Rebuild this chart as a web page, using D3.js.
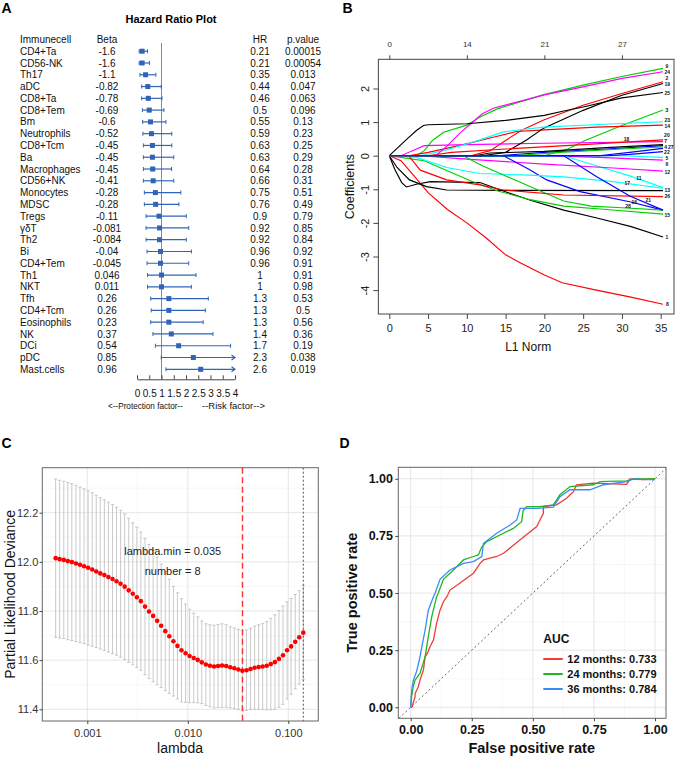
<!DOCTYPE html>
<html><head><meta charset="utf-8">
<script src="https://cdn.jsdelivr.net/npm/d3@7"></script>
<style>body{margin:0;background:#fff}</style>
</head><body><svg id="c" width="675" height="758"></svg>
<script>
// ================= DATA =================
// Panel A – forest plot
const cells = ["CD4+Ta","CD56-NK","Th17","aDC","CD8+Ta","CD8+Tem","Bm","Neutrophils","CD8+Tcm","Ba","Macrophages","CD56+NK","Monocytes","MDSC","Tregs","γδT","Th2","Bi","CD4+Tem","Th1","NKT","Tfh","CD4+Tcm","Eosinophils","NK","DCi","pDC","Mast.cells"];
const betaText = ["-1.6","-1.6","-1.1","-0.82","-0.78","-0.69","-0.6","-0.52","-0.45","-0.45","-0.45","-0.41","-0.28","-0.28","-0.11","-0.081","-0.084","-0.04","-0.045","0.046","0.011","0.26","0.26","0.23","0.37","0.54","0.85","0.96"];
const hrText = ["0.21","0.21","0.35","0.44","0.46","0.5","0.55","0.59","0.63","0.63","0.64","0.66","0.75","0.76","0.9","0.92","0.92","0.96","0.96","1","1","1.3","1.3","1.3","1.4","1.7","2.3","2.6"];
const pText = ["0.00015","0.00054","0.013","0.047","0.063","0.096","0.13","0.23","0.25","0.29","0.28","0.31","0.51","0.49","0.79","0.85","0.84","0.92","0.91","0.91","0.98","0.53","0.5","0.56","0.36","0.19","0.038","0.019"];
const ciLow  = [0.09,0.09,0.12,0.19,0.19,0.22,0.23,0.24,0.26,0.26,0.26,0.26,0.30,0.30,0.37,0.37,0.37,0.41,0.41,0.43,0.43,0.56,0.58,0.56,0.65,0.75,0.99,1.18];
const ciHigh = [0.43,0.51,0.77,0.99,1.02,1.10,1.18,1.42,1.42,1.50,1.41,1.50,1.79,1.71,2.01,2.11,2.01,2.22,2.11,2.41,2.22,2.91,2.79,2.70,3.10,3.82,5.4,5.8];
const hrTicks = [0,0.5,1,1.5,2,2.5,3,3.5,4];

// Panel B – coefficient paths [L1 norm, coefficient] for variables 1..28
const coefPaths = [
 [[0,0],[0.7,-0.4],[1.6,-0.8],[2.2,-0.93],[3.5,-0.85],[5.3,-0.77],[11.7,-0.8],[14.7,-1.05],[18.1,-1.32],[22.5,-1.62],[26.9,-1.86],[31.2,-2.11],[35.3,-2.42]],
 [[0,0],[10.5,0],[13,0.15],[15.1,0.47],[17,0.75],[19.9,1.06],[25,1.5],[30,1.85],[35.3,2.2]],
 [[0,0],[20,0],[23,0.2],[25.4,0.47],[30,0.9],[35.3,1.36]],
 [[0,0],[14,0],[20,0.1],[28,0.2],[35.3,0.3]],
 [[0,0],[25,0],[30,0],[35.3,-0.05]],
 [[0,0],[20,0],[27,-0.05],[35.3,-0.13]],
 [[0,0],[11,0],[13,0.08],[20,0.13],[28,0.24],[35.3,0.33]],
 [[0,0],[1.5,-0.15],[3,-0.55],[5,-1.1],[7.5,-1.6],[10,-2.0],[12.5,-2.45],[15,-2.95],[17,-3.2],[20,-3.55],[22.3,-3.78],[26.7,-4.0],[31,-4.2],[35.3,-4.42]],
 [[0,0],[3.5,0],[4.5,0.15],[5.6,0.46],[7,0.7],[10,0.91],[11.7,1.15],[14,1.4],[19.8,1.81],[25,2.1],[29.8,2.35],[35.3,2.6]],
 [[0,0],[27,0],[31,0.1],[35.3,0.22]],
 [[0,0],[22.5,0],[26.7,-0.3],[31,-0.6],[35.3,-0.95]],
 [[0,0],[4,0],[10,-0.1],[20,-0.25],[30,-0.38],[35.3,-0.46]],
 [[0,0],[1,-0.35],[2.6,-0.72],[4.8,-0.92],[7.4,-1.02],[15,-1.03],[35.3,-1.04]],
 [[0,0],[2.5,0],[5,0.1],[9,0.3],[13.8,0.57],[16.4,0.72],[20,0.77],[26.7,0.85],[35.3,0.91]],
 [[0,0],[3,-0.1],[4.5,-0.15],[8,-0.5],[11,-0.8],[14,-1.05],[18,-1.3],[22.5,-1.5],[28,-1.6],[35.3,-1.74]],
 [[0,0],[14.7,0],[18,-0.4],[20.3,-0.72],[24.6,-1.07],[31,-1.37],[35.3,-1.62]],
 [[0,0],[3.5,-0.05],[7.4,-0.35],[11.7,-0.53],[18,-0.58],[22.5,-0.63],[28.9,-0.77],[35.3,-0.97]],
 [[0,0],[1.5,0],[3,0.15],[4.5,0.3],[10,0.33],[20,0.37],[35.3,0.42]],
 [[0,0],[12,0],[15,0.1],[17.7,0.47],[19.9,0.82],[25,1.35],[30,1.8],[35.3,2.15]],
 [[0,0],[5,0],[8,0.1],[15,0.2],[25,0.33],[35.3,0.47]],
 [[0,0],[9.5,0],[12,-0.3],[16,-0.7],[20,-1.1],[22.5,-1.35],[26,-1.5],[30,-1.55],[35.3,-1.62]],
 [[0,0],[28,0],[31,0.04],[35.3,0.12]],
 [[0,0],[4,0],[7,0.15],[10,0.35],[11.7,0.47],[14.7,0.71],[19.9,0.85],[27,0.93],[35.3,1.01]],
 [[0,0],[6,0],[7.5,0.3],[9,0.65],[10.5,0.95],[12,1.25],[13.5,1.42],[20,1.81],[25,2.05],[30,2.3],[35.3,2.5]],
 [[0,0],[1,0.22],[2.3,0.5],[3.5,0.75],[4.4,0.9],[5,0.92],[10,0.95],[15,1.05],[20,1.2],[22.5,1.33],[25,1.45],[30,1.72],[35.3,1.88]],
 [[0,0],[2.5,0],[4,-0.43],[7.4,-0.72],[11.7,-0.87],[14.7,-1.02],[22.5,-1.17],[35.3,-1.22]],
 [[0,0],[16,0],[22,0.1],[30,0.2],[35.3,0.26]],
 [[0,0],[22.5,0],[26.7,-0.62],[31,-1.2],[35.3,-1.62]]
];
const pathPalette = ["#000000","#FF0000","#00CD00","#0000FF","#00FFFF","#FF00FF"];
const varLabels = [["9",35.8,2.67],["24",35.85,2.49],["2",35.8,2.31],["19",35.85,2.13],["25",35.85,1.87],["3",35.8,1.36],["23",35.85,1.06],["14",35.85,0.88],["20",35.8,0.60],["7",35.65,0.43],["4",35.65,0.26],["27",36.3,0.26],["22",35.8,0.09],["5",35.8,-0.08],["6",35.8,-0.25],["12",35.85,-0.48],["13",35.85,-1.04],["26",35.85,-1.22],["15",35.85,-1.77],["1",35.8,-2.42],["8",35.85,-4.43],["18",30.6,0.49],["11",32.2,-0.66],["17",30.7,-0.82],["21",33.4,-1.32],["16",31.6,-1.37],["28",30.8,-1.49]];
const l1Ticks = [0,5,10,15,20,25,30,35];
const coefTicks = [-4,-3,-2,-1,0,1,2];
const dfTickPos = [0,10,20,30];
const dfTickLabels = ["0","14","21","27"];

// Panel C – cross-validation
const logLambda = [-3.315,-3.275,-3.234,-3.194,-3.154,-3.113,-3.073,-3.032,-2.992,-2.951,-2.911,-2.871,-2.830,-2.790,-2.749,-2.709,-2.669,-2.628,-2.588,-2.547,-2.507,-2.467,-2.426,-2.386,-2.345,-2.305,-2.265,-2.224,-2.184,-2.143,-2.103,-2.063,-2.022,-1.982,-1.941,-1.901,-1.861,-1.820,-1.780,-1.739,-1.699,-1.659,-1.618,-1.578,-1.537,-1.497,-1.457,-1.416,-1.376,-1.335,-1.295,-1.255,-1.214,-1.174,-1.133,-1.093,-1.053,-1.012,-0.972,-0.931,-0.891,-0.851];
const cvMean = [12.015,12.011,12.008,12.003,11.999,11.993,11.988,11.982,11.976,11.969,11.961,11.953,11.946,11.938,11.930,11.921,11.911,11.899,11.884,11.870,11.856,11.840,11.818,11.798,11.780,11.760,11.740,11.718,11.697,11.677,11.658,11.640,11.628,11.617,11.609,11.601,11.591,11.582,11.577,11.574,11.576,11.578,11.576,11.571,11.567,11.562,11.557,11.559,11.564,11.569,11.572,11.574,11.577,11.584,11.592,11.605,11.620,11.640,11.656,11.675,11.693,11.712];
const cvSE = [.322,.321,.320,.320,.319,.318,.316,.315,.314,.312,.310,.308,.306,.305,.303,.301,.299,.296,.293,.289,.285,.281,.277,.273,.268,.260,.251,.242,.232,.223,.216,.210,.200,.190,.182,.175,.168,.166,.167,.168,.169,.170,.168,.165,.164,.163,.163,.164,.166,.169,.172,.175,.180,.186,.192,.197,.200,.198,.195,.192,.190,.192];
const lambdaMin = 0.035, lambda1se = 0.141;
const devTicks = [11.4,11.6,11.8,12.0,12.2];
const lambdaTicks = [0.001,0.01,0.1];

// Panel D – ROC
const roc12 = [[0,0],[0.005,0],[0.014,0.032],[0.018,0.047],[0.018,0.06],[0.031,0.09],[0.038,0.119],[0.052,0.163],[0.059,0.221],[0.07,0.24],[0.079,0.265],[0.093,0.294],[0.106,0.367],[0.12,0.425],[0.134,0.462],[0.148,0.484],[0.161,0.513],[0.202,0.544],[0.257,0.587],[0.284,0.63],[0.298,0.645],[0.352,0.66],[0.38,0.674],[0.448,0.733],[0.516,0.791],[0.529,0.82],[0.543,0.849],[0.543,0.878],[0.597,0.886],[0.638,0.915],[0.666,0.944],[0.679,0.974],[0.747,0.981],[0.884,0.976],[0.898,0.999],[0.95,0.997],[1,1]];
const roc24 = [[0,0],[0.004,0.047],[0.01,0.09],[0.018,0.119],[0.038,0.148],[0.05,0.19],[0.059,0.221],[0.072,0.309],[0.086,0.396],[0.106,0.484],[0.113,0.5],[0.134,0.56],[0.175,0.601],[0.216,0.645],[0.257,0.66],[0.277,0.667],[0.29,0.7],[0.311,0.725],[0.366,0.754],[0.42,0.783],[0.454,0.812],[0.46,0.86],[0.475,0.878],[0.529,0.878],[0.584,0.886],[0.611,0.93],[0.652,0.966],[0.747,0.974],[0.775,0.988],[0.884,0.991],[0.911,1.0],[1,1]];
const roc36 = [[0,0],[0.002,0.05],[0.006,0.09],[0.011,0.119],[0.025,0.16],[0.038,0.221],[0.05,0.29],[0.059,0.338],[0.072,0.425],[0.093,0.484],[0.1,0.5],[0.12,0.56],[0.161,0.601],[0.216,0.63],[0.257,0.638],[0.291,0.66],[0.298,0.718],[0.352,0.762],[0.407,0.798],[0.434,0.82],[0.448,0.871],[0.516,0.871],[0.584,0.876],[0.611,0.922],[0.652,0.952],[0.734,0.952],[0.789,0.974],[0.884,0.988],[0.911,1.0],[0.96,0.996],[1,0.996]];
const rocLabels = ["12 months: 0.733","24 months: 0.779","36 months: 0.784"];
const rocColors = ["#F03C3C","#22B522","#3A8CF5"];
const rateTicks = [0,0.25,0.5,0.75,1];

// ================= DRAW =================
const FONT = "'Liberation Sans', Arial, Helvetica, sans-serif";
const svg = d3.select("#c").attr("font-family", FONT);
svg.append("rect").attr("width",675).attr("height",758).attr("fill","#fff");

function styleAxis(g, fs, fw, col, lineCol){
  g.attr("font-family", FONT).attr("font-size", fs);
  g.selectAll("text").attr("fill", col).attr("font-weight", fw);
  g.selectAll("line").attr("stroke", lineCol);
  g.selectAll(".domain").attr("stroke", lineCol);
}
function label(txt,x,y,opt={}){
  const t = svg.append("text").text(txt).attr("x",x).attr("y",y)
    .attr("font-size",opt.fs||10).attr("font-weight",opt.fw||"normal")
    .attr("text-anchor",opt.anchor||"start").attr("fill",opt.fill||"#000");
  if(opt.rot) t.attr("transform",`rotate(-90,${x},${y})`);
  if(opt.len) t.attr("textLength",opt.len).attr("lengthAdjust","spacingAndGlyphs");
  return t;
}

// ---------- Panel A ----------
label("A",1.5,12.7,{fs:14,fw:"bold"});
label("Hazard Ratio Plot",171,23,{fs:11,fw:"bold",anchor:"middle"});
const xA = d3.scaleLinear().domain([0,4]).range([137,235]);
const yA = d3.scaleLinear().domain([0,27]).range([51.2,369.3]);
const blueA = "#2F64B9";
const axisYA = 379.3;
svg.append("line").attr("x1",xA(1)).attr("x2",xA(1)).attr("y1",43).attr("y2",axisYA).attr("stroke","#8a8a8a").attr("stroke-width",1);
const hy = yA(-1)+3.6;
label("Immunecell",20,hy,{fill:"#111"});
label("Beta",107,hy,{anchor:"middle",fill:"#111"});
label("HR",260,hy,{anchor:"middle",fill:"#111"});
label("p.value",303,hy,{anchor:"middle",fill:"#111"});
cells.forEach((c,i)=>{
  const y = yA(i)+3.6;
  label(c,20,y,{fill:"#111"});
  label(betaText[i],107,y,{anchor:"middle",fill:"#111"});
  label(hrText[i],260,y,{anchor:"middle",fill:"#111"});
  label(pText[i],303,y,{anchor:"middle",fill:"#111"});
});
const gF = svg.append("g");
cells.forEach((c,i)=>{
  const cy = yA(i), hr = +hrText[i];
  const lo = xA(ciLow[i]), hiClip = ciHigh[i] > 4, hi = xA(Math.min(ciHigh[i],4));
  gF.append("line").attr("x1",lo).attr("x2",hi).attr("y1",cy).attr("y2",cy).attr("stroke",blueA).attr("stroke-width",1.2);
  gF.append("line").attr("x1",lo).attr("x2",lo).attr("y1",cy-2).attr("y2",cy+2).attr("stroke",blueA).attr("stroke-width",1);
  if(hiClip){
    gF.append("path").attr("d",`M${hi-3.5},${cy-2.5}L${hi},${cy}L${hi-3.5},${cy+2.5}`).attr("fill","none").attr("stroke",blueA).attr("stroke-width",1.2);
  } else {
    gF.append("line").attr("x1",hi).attr("x2",hi).attr("y1",cy-2).attr("y2",cy+2).attr("stroke",blueA).attr("stroke-width",1);
  }
  const s = 5;
  gF.append("rect").attr("x",xA(hr)-s/2).attr("y",cy-s/2).attr("width",s).attr("height",s).attr("fill",blueA);
});
const gAx = svg.append("g").attr("transform",`translate(0,${axisYA})`)
  .call(d3.axisBottom(xA).tickValues(hrTicks).tickFormat(d=>String(d)).tickSize(-4).tickSizeOuter(0).tickPadding(10.4));
styleAxis(gAx,10,"normal","#111","#444");
label("<--Protection factor--",183,408.5,{fs:9,anchor:"end",len:75,fill:"#111"});
label("--Risk factor-->",202,408.5,{fs:9,len:63,fill:"#111"});

// ---------- Panel B ----------
label("B",342.5,12.7,{fs:14,fw:"bold"});
const xB = d3.scaleLinear().domain([0,35]).range([389.3,660.7]);
const yB = d3.scaleLinear().domain([-4,2]).range([290.1,88.5]);
const bL = xB(-1.41), bR = 674, bT = 59.3, bBt = 314;
const lineB = d3.line().x(d=>xB(d[0])).y(d=>yB(d[1]));
coefPaths.forEach((p,i)=>{
  svg.append("path").attr("d",lineB(p)).attr("fill","none")
    .attr("stroke",pathPalette[i%6]).attr("stroke-width",1.15);
});
varLabels.forEach(l=>{
  label(l[0],xB(l[1]),yB(l[2])+1.8,{fs:5,fw:"bold",anchor:"middle",fill:"#111"});
});
svg.append("rect").attr("x",bL).attr("y",bT).attr("width",bR-bL).attr("height",bBt-bT)
  .attr("fill","none").attr("stroke","#444").attr("stroke-width",1);
const gBb = svg.append("g").attr("transform",`translate(0,${bBt})`)
  .call(d3.axisBottom(xB).tickValues(l1Ticks).tickFormat(d=>String(d)).tickSize(5).tickPadding(4.9));
gBb.select(".domain").remove();
styleAxis(gBb,11,"normal","#222","#444");
const gBt = svg.append("g").attr("transform",`translate(0,${bT})`)
  .call(d3.axisTop(xB).tickValues(dfTickPos).tickFormat((d,i)=>dfTickLabels[i]).tickSize(4).tickPadding(8.3));
gBt.select(".domain").remove();
styleAxis(gBt,8,"normal","#333","#444");
const gBl = svg.append("g").attr("transform",`translate(${bL},0)`)
  .call(d3.axisLeft(yB).tickValues(coefTicks).tickFormat(d=>String(d)).tickSize(5));
gBl.select(".domain").remove();
styleAxis(gBl,11,"normal","#222","#444");
gBl.selectAll(".tick text").attr("x",null).attr("dy",null).attr("text-anchor","middle")
  .attr("transform","translate(-9.5,0) rotate(-90)");
label("Coefficients",354,(bT+bBt)/2,{fs:12.5,anchor:"middle",rot:true,fill:"#111"});
label("L1 Norm",(bL+bR)/2+2,350.7,{fs:12,anchor:"middle",fill:"#111"});

// ---------- Panel C ----------
label("C",1.5,448,{fs:14,fw:"bold"});
const xC = d3.scaleLog().domain([0.001,0.1]).range([87.3,288.3]);
const yC = d3.scaleLinear().domain([11.4,12.2]).range([709.3,512.7]);
const cL = 42.3, cR = 318.3, cT = 467.7, cB = 721;
const gC = svg.append("g");
[Math.pow(10,-2.5),Math.pow(10,-1.5)].forEach(v=>gC.append("line").attr("x1",xC(v)).attr("x2",xC(v)).attr("y1",cT).attr("y2",cB).attr("stroke","#F2F2F2").attr("stroke-width",0.6));
[11.5,11.7,11.9,12.1,12.3].forEach(v=>gC.append("line").attr("x1",cL).attr("x2",cR).attr("y1",yC(v)).attr("y2",yC(v)).attr("stroke","#F2F2F2").attr("stroke-width",0.6));
lambdaTicks.forEach(v=>gC.append("line").attr("x1",xC(v)).attr("x2",xC(v)).attr("y1",cT).attr("y2",cB).attr("stroke","#E6E6E6").attr("stroke-width",1));
devTicks.forEach(v=>gC.append("line").attr("x1",cL).attr("x2",cR).attr("y1",yC(v)).attr("y2",yC(v)).attr("stroke","#E6E6E6").attr("stroke-width",1));
logLambda.forEach((lg,i)=>{
  const x = xC(Math.pow(10,lg));
  const y1 = yC(cvMean[i]-cvSE[i]), y2 = yC(cvMean[i]+cvSE[i]);
  gC.append("line").attr("x1",x).attr("x2",x).attr("y1",y1).attr("y2",y2).attr("stroke","#BDBDBD").attr("stroke-width",0.8);
  gC.append("line").attr("x1",x-1.6).attr("x2",x+1.6).attr("y1",y1).attr("y2",y1).attr("stroke","#BDBDBD").attr("stroke-width",0.8);
  gC.append("line").attr("x1",x-1.6).attr("x2",x+1.6).attr("y1",y2).attr("y2",y2).attr("stroke","#BDBDBD").attr("stroke-width",0.8);
});
gC.append("line").attr("x1",xC(lambdaMin)).attr("x2",xC(lambdaMin)).attr("y1",cT).attr("y2",cB).attr("stroke","#FF3030").attr("stroke-width",1.4).attr("stroke-dasharray","6,3.5");
gC.append("line").attr("x1",xC(lambda1se)).attr("x2",xC(lambda1se)).attr("y1",cT).attr("y2",cB).attr("stroke","#555").attr("stroke-width",1).attr("stroke-dasharray","2,2");
logLambda.forEach((lg,i)=>{
  gC.append("circle").attr("cx",xC(Math.pow(10,lg))).attr("cy",yC(cvMean[i])).attr("r",2.3).attr("fill","#FF0000");
});
gC.append("rect").attr("x",cL).attr("y",cT).attr("width",cR-cL).attr("height",cB-cT).attr("fill","none").attr("stroke","#666").attr("stroke-width",1);
label("lambda.min = 0.035",172.7,555,{fs:11,anchor:"middle",fill:"#222"});
label("number = 8",172.7,574.5,{fs:11,anchor:"middle",fill:"#222"});
const gCx = svg.append("g").attr("transform",`translate(0,${cB})`)
  .call(d3.axisBottom(xC).tickValues(lambdaTicks).tickFormat(d3.format(".3f")).tickSize(3).tickPadding(4.9));
gCx.select(".domain").remove();
styleAxis(gCx,11,"normal","#333","#444");
const gCy = svg.append("g").attr("transform",`translate(${cL},0)`)
  .call(d3.axisLeft(yC).tickValues(devTicks).tickFormat(d3.format(".1f")).tickSize(2.8).tickPadding(1.2));
gCy.select(".domain").remove();
styleAxis(gCy,11,"normal","#333","#444");
label("lambda",180,753,{fs:14,anchor:"middle",fill:"#111"});
label("Partial Likelihood Deviance",15,(cT+cB)/2,{fs:14,anchor:"middle",rot:true,fill:"#111"});

// ---------- Panel D ----------
label("D",339.5,448,{fs:14,fw:"bold"});
const xD = d3.scaleLinear().domain([0,1]).range([410.7,655]);
const yD = d3.scaleLinear().domain([0,1]).range([707.3,478.8]);
const dL = 398.3, dR = 666, dT = 467.3, dB = 718.3;
const gD = svg.append("g");
[0.125,0.375,0.625,0.875].forEach(v=>{
  gD.append("line").attr("x1",xD(v)).attr("x2",xD(v)).attr("y1",dT).attr("y2",dB).attr("stroke","#F2F2F2").attr("stroke-width",0.6);
  gD.append("line").attr("x1",dL).attr("x2",dR).attr("y1",yD(v)).attr("y2",yD(v)).attr("stroke","#F2F2F2").attr("stroke-width",0.6);
});
rateTicks.forEach(v=>{
  gD.append("line").attr("x1",xD(v)).attr("x2",xD(v)).attr("y1",dT).attr("y2",dB).attr("stroke","#E6E6E6").attr("stroke-width",1);
  gD.append("line").attr("x1",dL).attr("x2",dR).attr("y1",yD(v)).attr("y2",yD(v)).attr("stroke","#E6E6E6").attr("stroke-width",1);
});
gD.append("line").attr("x1",xD(-0.048)).attr("y1",yD(-0.048)).attr("x2",xD(1.045)).attr("y2",yD(1.045))
  .attr("stroke","#555").attr("stroke-width",0.9).attr("stroke-dasharray","2,2.5");
const lineD = d3.line().x(d=>xD(d[0])).y(d=>yD(d[1]));
[roc12,roc24,roc36].forEach((r,i)=>{
  gD.append("path").attr("d",lineD(r)).attr("fill","none").attr("stroke",rocColors[i]).attr("stroke-width",1.3);
});
gD.append("rect").attr("x",dL).attr("y",dT).attr("width",dR-dL).attr("height",dB-dT).attr("fill","none").attr("stroke","#666").attr("stroke-width",1);
const gDx = svg.append("g").attr("transform",`translate(0,${dB})`)
  .call(d3.axisBottom(xD).tickValues(rateTicks).tickFormat(d3.format(".2f")).tickSize(3).tickPadding(4));
gDx.select(".domain").remove();
styleAxis(gDx,12.5,"bold","#111","#444");
const gDy = svg.append("g").attr("transform",`translate(${dL},0)`)
  .call(d3.axisLeft(yD).tickValues(rateTicks).tickFormat(d3.format(".2f")).tickSize(3).tickPadding(2.3));
gDy.select(".domain").remove();
styleAxis(gDy,12.5,"bold","#111","#444");
label("False positive rate",531.7,753,{fs:14.5,fw:"bold",anchor:"middle",fill:"#111"});
label("True positive rate",357,(dT+dB)/2,{fs:14.5,fw:"bold",anchor:"middle",rot:true,fill:"#111"});
label("AUC",543.3,643.3,{fs:12,fw:"bold",fill:"#111"});
rocLabels.forEach((t,i)=>{
  const y = 659 + i*15;
  svg.append("line").attr("x1",543.3).attr("x2",562.7).attr("y1",y).attr("y2",y).attr("stroke",rocColors[i]).attr("stroke-width",2);
  label(t,567.3,y+4,{fs:11,fw:"bold",fill:"#111"});
});
</script></body></html>
